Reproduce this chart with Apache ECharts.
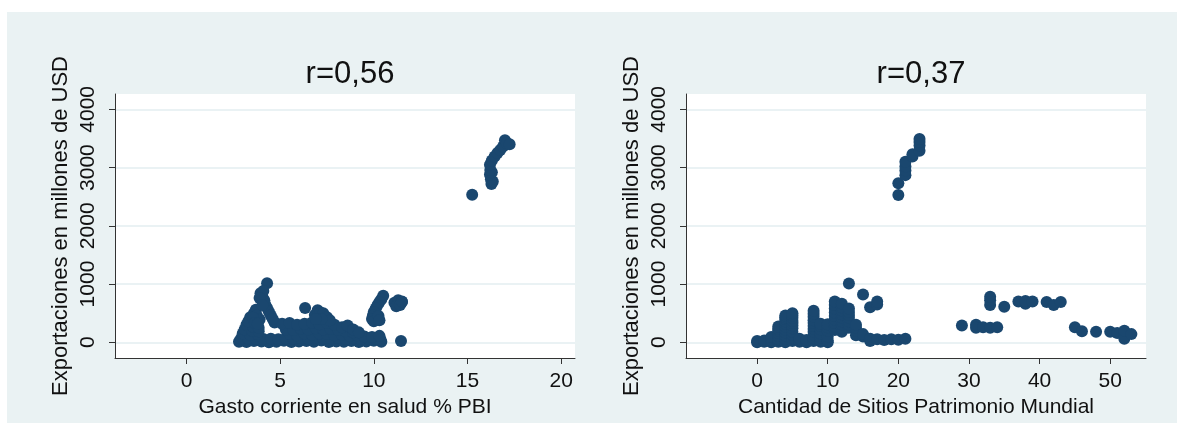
<!DOCTYPE html>
<html>
<head>
<meta charset="utf-8">
<script src="https://cdn.jsdelivr.net/npm/echarts@6/dist/echarts.min.js"></script>
<style>
  html, body { margin: 0; padding: 0; background: #ffffff; }
  #chart { position: absolute; left: 7px; top: 12px; width: 1170px; height: 411px; }
</style>
</head>
<body>
<div id="chart"></div>
<script>
// Panel titles / axis names
const titles = ["r=0,56", "r=0,37"];
const xNames = ["Gasto corriente en salud % PBI", "Cantidad de Sitios Patrimonio Mundial"];
const yName = "Exportaciones en millones de USD";

// Tick labels
const yTicks = [0, 1000, 2000, 3000, 4000];
const xTicksGasto = [0, 5, 10, 15, 20];
const xTicksSitios = [0, 10, 20, 30, 40, 50];

// Left panel: [gasto en salud % PBI, exportaciones]
const puntosGasto = [
  // bottom row
  [2.8, 10], [3.2, 5], [3.6, 20], [4.0, 15], [4.4, 0], [4.8, 10], [5.2, 25], [5.6, 5],
  [6.0, 15], [6.4, 20], [6.8, 10], [7.2, 30], [7.6, 5], [8.0, 15], [8.4, 10], [8.8, 20],
  [9.2, 5], [9.6, 15], [10.0, 25], [10.4, 10],
  [2.9, 60], [3.3, 70], [3.7, 65], [4.1, 55], [4.5, 60], [4.9, 50], [5.3, 70], [5.7, 65],
  [6.1, 75], [6.5, 60], [6.9, 80], [7.3, 70], [7.7, 65], [8.1, 75], [8.5, 60], [8.9, 70],
  [9.3, 55], [9.7, 65], [10.1, 60], [10.35, 50],
  // second row
  [3.0, 150], [3.4, 130], [3.8, 140], [5.5, 140], [5.9, 120], [6.3, 150], [6.7, 130],
  [7.1, 150], [7.5, 140], [7.9, 120], [8.3, 130], [8.7, 110], [9.1, 120], [9.5, 100],
  [9.9, 90], [10.3, 110],
  [3.1, 220], [3.5, 200], [3.85, 190], [5.3, 220], [5.7, 210], [6.1, 230], [6.5, 220],
  [6.9, 240], [7.3, 220], [7.7, 230], [8.1, 210], [8.5, 190], [8.9, 170],
  // third row
  [3.2, 300], [3.55, 270], [3.85, 250], [4.7, 340], [5.1, 320], [5.5, 330], [5.9, 300],
  [6.3, 320], [6.7, 340], [7.1, 310], [7.5, 330], [7.9, 300], [8.3, 260], [8.6, 290],
  [8.9, 220], [9.2, 170],
  // left peak
  [3.4, 430], [3.5, 370], [3.6, 500], [3.7, 560], [3.75, 460], [3.9, 390],
  [3.3, 360], [3.55, 420], [3.65, 330], [3.8, 320],
  // chain up to 1000
  [4.3, 1013], [3.95, 840], [4.05, 780], [4.15, 720], [4.2, 650], [4.3, 590], [4.4, 525],
  [4.5, 460], [4.6, 400], [4.1, 880], [3.9, 760], [4.05, 640],
  // middle bump
  [6.33, 590], [6.85, 470], [7.0, 550], [7.15, 510], [7.3, 500], [7.5, 430], [7.65, 380],
  [7.2, 400], [6.9, 400],
  // right chain
  [10.5, 800], [10.4, 740], [10.3, 690], [10.2, 640], [10.1, 580], [10.0, 520],
  [9.95, 460], [9.9, 400], [10.0, 360], [10.25, 450], [10.3, 380],
  // cluster near 11
  [11.1, 680], [11.3, 720], [11.5, 690], [11.2, 620], [11.4, 640], [11.5, 700], [11.45, 20],
  // high group
  [15.25, 2534], [16.28, 2718], [16.35, 2760], [16.25, 2800], [16.2, 2880], [16.3, 2920],
  [16.22, 2960], [16.2, 3050], [16.3, 3120], [16.45, 3190], [16.6, 3250], [16.75, 3300],
  [16.9, 3360], [17.0, 3470], [17.1, 3420], [17.25, 3400]
];

// Right panel: [sitios patrimonio mundial, exportaciones]
const puntosSitios = [
  [0, 0], [0, 20], [1, 10], [1, 30], [2, 0], [2, 40], [2, 90],
  [3, 10], [3, 50], [3, 110], [3, 160], [3, 200], [3, 230], [3, 270],
  [4, 0], [4, 60], [4, 120], [4, 170], [4, 220], [4, 270], [4, 320], [4, 360], [4, 400], [4, 430], [4, 460],
  [5, 20], [5, 70], [5, 130], [5, 180], [5, 240], [5, 290], [5, 330], [5, 370], [5, 420], [5, 460], [5, 500],
  [6, 10], [6, 60], [7, 0], [7, 40],
  [8, 20], [8, 70], [8, 120], [8, 180], [8, 230], [8, 280], [8, 330], [8, 380], [8, 440], [8, 490], [8, 540],
  [9, 10], [9, 80], [9, 150], [9, 220], [9, 280], [9, 320],
  [10, 0], [10, 30], [10, 100], [10, 200], [10, 260], [10, 310],
  [11, 210], [11, 270], [11, 330], [11, 390], [11, 450], [11, 510], [11, 580], [11, 640], [11, 700],
  [12, 180], [12, 240], [12, 300], [12, 360], [12, 420], [12, 480], [12, 540], [12, 600], [12, 660],
  [13, 250], [13, 300], [13, 360], [13, 420], [13, 470], [13, 520], [13, 580], [13, 1010],
  [14, 120], [14, 200], [14, 250], [14, 300], [15, 100], [15, 140], [15, 820], [16, 20], [16, 60], [16, 600],
  [17, 50], [17, 650], [17, 700], [18, 40], [19, 50], [20, 45], [21, 60],
  [20, 2530], [20, 2730], [21, 2870], [21, 2950], [21, 3020], [21, 3100],
  [22, 3190], [22, 3230], [23, 3290], [23, 3380], [23, 3440], [23, 3490],
  [29, 290], [31, 300], [31, 250], [32, 260], [33, 250], [33, 640], [33, 720], [33, 780],
  [34, 260], [35, 610], [37, 700], [38, 660], [38, 710], [39, 700],
  [41, 690], [42, 640], [43, 690], [45, 260], [46, 190], [48, 180],
  [50, 180], [51, 160], [52, 120], [52, 60], [52, 200], [53, 140]
];

const FONT = "Liberation Sans, Arial, sans-serif";
const MARK = "#1a476f";
const AXIS = "#333333";
const GRIDLINE = "#e3eef1";

function makeXAxis(idx, min, max, ticks, name) {
  return {
    type: "value", gridIndex: idx, min: min, max: max,
    name: name, nameLocation: "middle", nameGap: 36,
    nameTextStyle: { color: "#111", fontFamily: FONT, fontSize: 21 },
    axisLine: { show: true, onZero: false, lineStyle: { color: AXIS, width: 1 } },
    axisTick: { show: true, length: 6, customValues: ticks, lineStyle: { color: AXIS } },
    axisLabel: { customValues: ticks, color: "#111", fontFamily: FONT, fontSize: 21, margin: 13,
      formatter: (v) => String(v) },
    splitLine: { show: false },
  };
}

function makeYAxis(idx) {
  return {
    type: "value", gridIndex: idx, min: -270, max: 4263,
    name: yName, nameLocation: "middle", nameGap: 43, nameRotate: 90,
    nameTextStyle: { color: "#111", fontFamily: FONT, fontSize: 22 },
    axisLine: { show: true, onZero: false, lineStyle: { color: AXIS, width: 1 } },
    axisTick: { show: true, length: 6, customValues: yTicks, lineStyle: { color: AXIS } },
    axisLabel: { customValues: yTicks, rotate: 90, color: "#111", fontFamily: FONT, fontSize: 21, margin: 16,
      formatter: (v) => String(v) },
    splitLine: { show: true, lineStyle: { color: GRIDLINE, width: 1.5 } },
  };
}

const chart = echarts.init(document.getElementById("chart"));
chart.setOption({
  animation: false,
  backgroundColor: "#eaf2f3",
  title: [
    { text: titles[0], left: 338, top: 42, textAlign: "center",
      textStyle: { fontFamily: FONT, fontSize: 31, fontWeight: "normal", color: "#111" } },
    { text: titles[1], left: 909, top: 42, textAlign: "center",
      textStyle: { fontFamily: FONT, fontSize: 31, fontWeight: "normal", color: "#111" } },
  ],
  grid: [
    { left: 108, top: 82, width: 460, height: 264, show: true, backgroundColor: "#ffffff", borderWidth: 0 },
    { left: 679, top: 82, width: 460, height: 264, show: true, backgroundColor: "#ffffff", borderWidth: 0 },
  ],
  xAxis: [
    makeXAxis(0, -3.82, 20.74, xTicksGasto, xNames[0]),
    makeXAxis(1, -10.07, 55.07, xTicksSitios, xNames[1]),
  ],
  yAxis: [makeYAxis(0), makeYAxis(1)],
  series: [
    { type: "scatter", xAxisIndex: 0, yAxisIndex: 0, data: puntosGasto,
      symbolSize: 12, itemStyle: { color: MARK, opacity: 1 } },
    { type: "scatter", xAxisIndex: 1, yAxisIndex: 1, data: puntosSitios,
      symbolSize: 12, itemStyle: { color: MARK, opacity: 1 } },
  ],
});
</script>
</body>
</html>
